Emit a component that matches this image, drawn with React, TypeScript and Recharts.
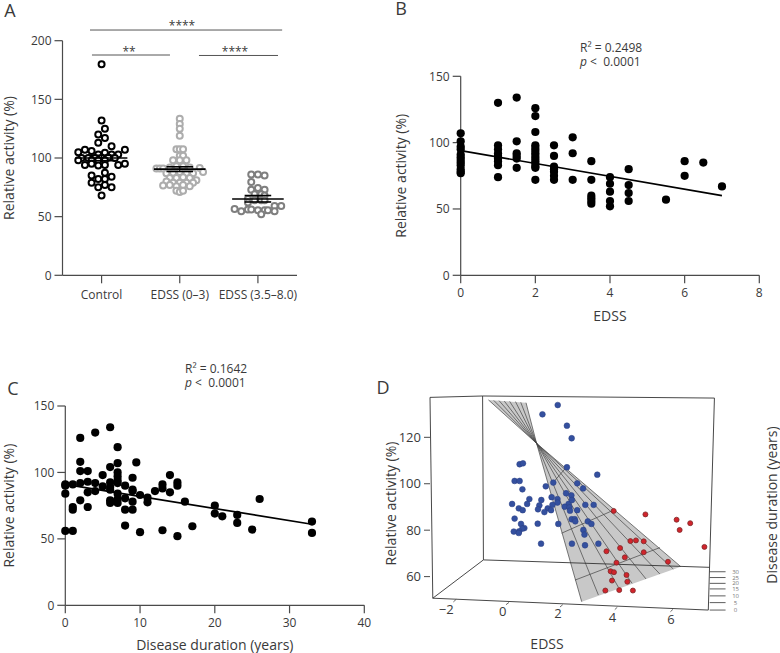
import React from 'react';
import { ScatterChart, Scatter, XAxis, YAxis, ReferenceLine } from 'recharts';

const FONT = '"Open Sans", "Noto Sans", sans-serif';
const INK = '#3a3a3a';
const AXIS = '#4a4a4a';

// Panel A: swarm columns (offset from the group centre) and values
const groupNames = ['Control', 'EDSS (0–3)', 'EDSS (3.5–8.0)'];
const controlCols = [0, 0, 1, -1, 1, -1, 3, -7, -5, -3, 7, 1, -1, 3, 5, -6, -4, -2, 0, 2, 4, -7, -3, -1, 1, -5, -3, -1, 1, 5, 7, 1, -3, 3, -1, 1, -3, -1, 1, 3, 0];
const controlVals = [180, 132, 125, 120, 117, 113, 110, 105, 107, 106, 107, 104.5, 103, 103, 103, 100, 100, 100, 100, 100.5, 100, 98, 98, 98, 98, 94, 95, 93.5, 94, 94, 95, 87.5, 85, 84, 82, 82, 79, 75, 77, 75, 68];
const milderCols = [0, 0, 0, 0, -1, 0, 1, 0, 1, -2, 0, 2, -7, -6, -5, -3, -1, 1, 3, 6, 7, -4, -2, 0, 2, 4, -3, -1, 1, 3, 5, -4, -2, 0, 2, 4, -5, -3, -1, 1, 3, -1, 0, 1];
const milderVals = [133.5, 129, 125, 119, 107.5, 107.5, 107.5, 102, 102, 98, 98, 98, 91, 91, 91, 92, 93, 93, 92, 91.5, 88, 87, 87.5, 88, 87, 87, 83, 83, 83.5, 83, 81, 80, 79, 79, 79, 79, 76.5, 77, 76, 77, 76, 72, 71, 72];
const severeCols = [-2, 0, 2, -2, 0, 2, -2, -1, 1, 2, -3, -1, 1, 2, -3, -7, -5, -3, -2, 0, 2, 3, 5, 7, 5, 1];
const severeVals = [86, 86, 85, 79.5, 74.5, 73, 73, 69, 69, 68, 65, 64, 64, 64, 62, 56.5, 54.5, 56, 56, 55.5, 55.5, 55.5, 59, 59, 54.5, 52];
const groupMeans = [100, 90.5, 65];
const groupSemHigh = [102.3, 92.5, 68];
const groupSemLow = [97.7, 88.5, 62.5];
const sigStart = [0.852, 0.877, 2.246];
const sigEnd = [3.31, 1.875, 3.257];
const sigLevel = [209.1, 187.8, 187.4];

// Panel B: EDSS vs relative activity
const edssX = [0, 0, 0, 0, 0, 0, 0, 0, 0, 0, 0, 0, 1, 1, 1, 1, 1, 1, 1, 1, 1, 1.5, 1.5, 1.5, 1.5, 1.5, 1.5, 2, 2, 2, 2, 2, 2, 2, 2, 2, 2, 2, 2, 2, 2, 2.5, 2.5, 2.5, 2.5, 2.5, 2.5, 2.5, 3, 3, 3, 3.5, 3.5, 3.5, 3.5, 3.5, 3.5, 4, 4, 4, 4, 4, 4.5, 4.5, 4.5, 4.5, 5.5, 6, 6, 6.5, 7];
const edssY = [107, 101, 97, 95, 91, 89, 87, 85, 83, 80, 78, 77, 130, 98, 95, 92, 90, 88, 86, 83, 74, 134, 101, 92, 90, 88, 81, 126, 120, 108, 98, 96, 94, 92, 90, 88, 86, 84, 82, 81, 72, 98, 90, 82, 80, 78, 75, 72, 104, 92, 72, 86, 72, 60, 58, 56, 54, 74, 69, 63, 56, 52, 80, 68, 62, 56, 57, 86, 75, 85, 67];
const edssFitX = [0, 7];
const edssFitY = [94, 60];

// Panel C: disease duration vs relative activity
const durationX = [0, 1, 0, 0, 0, 1, 1, 1, 2, 2, 2, 2, 2, 3, 3, 3, 3, 4, 4, 4, 5, 5, 6, 6, 6, 6, 6, 6, 6, 7, 7, 7, 7, 7, 7, 7, 7, 7, 8, 8, 8, 8, 9, 9, 9, 9, 9, 9.5, 10, 10, 11, 11, 12, 13, 13, 13, 14, 14, 15, 15, 15, 16, 17, 20, 20, 21, 23, 23, 25, 26, 33, 33];
const durationY = [56, 56, 91, 90, 84, 91, 74, 72, 126, 108, 101, 92, 79, 101, 93, 85, 74, 130, 92, 86, 98, 89.5, 134, 104, 92.5, 89, 87, 79, 77, 119, 107, 100, 97, 94, 92, 84, 80, 77, 90, 80.5, 72, 60, 96, 87, 86, 78, 72, 107.5, 83, 55, 81, 77.5, 86, 91, 88, 56.5, 98, 85, 92.5, 90, 52, 78, 59.5, 75, 69, 67, 68, 62, 57, 80, 63, 54.5];
const durationFitX = [0, 33];
const durationFitY = [91, 61];

// Panel D: points and frame as they read on the tilted view (EDSS-like, activity-like)
const blueX = [1.93, 1.38, 2.26, 2.43, 0.56, 0.68, 2.26, 3.35, 0.38, 0.56, 1.77, 2.63, 1.5, 2.84, 0.66, 2.23, 2.42, 1.71, 0.91, 1.92, 1.34, 1.92, 0.29, 0.83, 2.32, 2.44, 1.74, 2.92, 3.22, 1.27, 2.18, 2.35, 1.57, 0.53, 1.22, 0.67, 2.37, 1.69, 2.63, 1.45, 0.38, 2.43, 2.54, 2.56, 3.01, 0.61, 1.21, 1.95, 3.14, 0.73, 0.66, 2.85, 0.35, 0.54, 0.53, 2.89, 1.33, 2.44, 2.91, 3.39];
const blueY = [133.9, 129.9, 125, 119.6, 108.4, 108.8, 107.1, 103.9, 101.2, 101.2, 100.5, 100.2, 98.9, 98, 97.6, 95.9, 95, 94.2, 93.4, 93.4, 93, 91.9, 91.3, 91.3, 91.3, 93, 90.9, 90.9, 90.9, 90.7, 90.1, 89.8, 89.4, 89.4, 89, 88.6, 88.4, 88.6, 88.6, 87.8, 85, 84.7, 84.7, 83.8, 83.8, 82.7, 82.8, 82.7, 82.7, 80.9, 80.7, 80.1, 79.4, 79.5, 78.8, 78.1, 74.2, 74.2, 73.5, 74.2];
const redX = [3.94, 5.08, 6.2, 6.69, 6.31, 4.54, 4.74, 5.02, 4.17, 7.2, 3.68, 5.02, 4.34, 5.89, 4.04, 3.83, 3.95, 4.4, 3.88, 4.43, 3.64, 4.14, 4.63];
const redY = [88.3, 86.8, 84.5, 83, 80.1, 75.3, 75.6, 75.2, 72.3, 72.8, 70.9, 70.5, 68.3, 66.4, 66, 62.3, 61.9, 60.7, 58.3, 57.8, 54, 54.2, 54];
const planeX = [-0.56, 0.79, 1.17, 2.79, 6.35, 1.17];
const planeY = [136.1, 134.9, 117.4, 49.2, 64.3, 117.4];
const fanTopX = [-0.56, -0.37, -0.18, 0.01, 0.2, 0.41, 0.6, 0.79];
const fanTopY = [136.1, 135.9, 135.8, 135.6, 135.5, 135.4, 135.1, 134.9];
const fanEndX = [6.35, 6.08, 5.6, 5.1, 4.6, 4.11, 3.39, 2.79];
const fanEndY = [64.3, 63.3, 61.1, 59, 57.1, 55.4, 52.1, 49.2];
const fanWaist = { x: 1.17, y: 117.4 };
const crossLines = [
  [[1.77, 100.6], [2.24, 107.1]],
  [[2.07, 78.7], [3.95, 88.7]],
  [[2.55, 58.5], [5.6, 72.5]],
];
const frameLines = [
  [[-2.66, 137.2], [-0.77, 137.8], [7.56, 136.9], [7.34, 45.6], [-2.56, 50.7], [-2.66, 137.2]],
  [[-0.77, 137.8], [-0.74, 67.2], [7.38, 64]],
  [[-2.56, 50.7], [-0.74, 67.2]],
];
const edssTickLabels = ['−2', '0', '2', '4', '6'];
const edssLabelX = [-2.08, -0.05, 1.94, 3.9, 6];
const edssLabelY = [46.1, 45.3, 44.3, 42.8, 41.7];
const edssTickMarks = [
  [[-1.72, 50.2], [-1.82, 49.1]],
  [[0.18, 48.9], [0.07, 47.9]],
  [[2.11, 47.9], [2.01, 46.9]],
  [[4.07, 46.8], [3.98, 45.8]],
  [[6.07, 45.9], [5.98, 44.9]],
];
const durationTicks = ['30', '25', '20', '15', '10', '5', '0'];
const durationTickY = [62.1, 59.6, 57.1, 54.7, 51.7, 48.8, 45.6];

const zip = (xs: number[], ys: number[]) => xs.map((x, i) => ({ x, y: ys[i] }));
const pts = (line: number[][]) => line.map(([x, y]) => ({ x, y }));
const noDot = () => null;
const tick = { fontFamily: FONT, fontSize: 12, fill: INK };
const axisLine = { stroke: AXIS, strokeWidth: 1.2 };
const titleStyle = { fontFamily: FONT, fontSize: 14, fill: INK, textAnchor: 'middle' as const };

const stroke = (key: string, data: { x: number; y: number }[], color = AXIS, width = 1) => (
  <Scatter
    key={key}
    data={data}
    line={{ stroke: color, strokeWidth: width }}
    shape={noDot}
    isAnimationActive={false}
  />
);

const dot = (r: number, fill: string, edge = 'none', edgeWidth = 0) => (p: any) => (
  <circle cx={p.cx} cy={p.cy} r={r} fill={fill} stroke={edge} strokeWidth={edgeWidth} />
);

const Note = ({ x, y, size = 12, rotate = 0, color = INK, weight = 400, children }: any) => (
  <div
    style={{
      position: 'absolute',
      left: x,
      top: y,
      transform: `translate(-50%, -50%) rotate(${rotate}deg)`,
      fontFamily: FONT,
      fontSize: size,
      fontWeight: weight,
      color,
      lineHeight: 1,
      whiteSpace: 'nowrap',
    }}
  >
    {children}
  </div>
);

const Stats = ({ x, y, r2 }: { x: number; y: number; r2: string }) => (
  <div style={{ position: 'absolute', left: x, top: y, fontFamily: FONT, fontSize: 12, lineHeight: '14px', color: INK, whiteSpace: 'nowrap' }}>
    <div>R² = {r2}</div>
    <div><i>p</i> {'<'}&nbsp; 0.0001</div>
  </div>
);

const SwarmPanel = () => {
  const swarm = (cols: number[], vals: number[], group: number) =>
    cols.map((c, i) => ({ x: group + c * 0.0426, y: vals[i] }));
  return (
    <ScatterChart width={330} height={320} margin={{ top: 40.7, right: 33, bottom: 0, left: 0 }}>
      <XAxis
        type="number"
        dataKey="x"
        domain={[0.5, 3.5]}
        ticks={[1, 2, 3]}
        interval={0}
        tickFormatter={(v: number) => groupNames[v - 1]}
        tick={tick}
        tickSize={8}
        tickMargin={7}
        axisLine={axisLine}
        tickLine={axisLine}
        height={44.7}
      />
      <YAxis
        type="number"
        dataKey="y"
        domain={[0, 200]}
        ticks={[0, 50, 100, 150, 200]}
        interval={0}
        tick={tick}
        tickSize={8}
        tickMargin={3}
        axisLine={axisLine}
        tickLine={axisLine}
        width={62.5}
        label={{ value: 'Relative activity (%)', angle: -90, position: 'insideLeft', offset: 9.5, style: titleStyle }}
      />
      <Scatter data={swarm(controlCols, controlVals, 1)} shape={dot(3, '#fff', '#000', 2)} isAnimationActive={false} />
      <Scatter data={swarm(milderCols, milderVals, 2)} shape={dot(3, '#fff', '#adadad', 2)} isAnimationActive={false} />
      <Scatter data={swarm(severeCols, severeVals, 3)} shape={dot(3, '#fff', '#7f7f7f', 2)} isAnimationActive={false} />
      {groupMeans.map((m, i) => stroke(`mean${i}`, zip([i + 1 - 0.33, i + 1 + 0.33], [m, m]), '#000', 1.6))}
      {groupSemHigh.map((m, i) => stroke(`hi${i}`, zip([i + 1 - 0.17, i + 1 + 0.17], [m, m]), '#000', 1.6))}
      {groupSemLow.map((m, i) => stroke(`lo${i}`, zip([i + 1 - 0.17, i + 1 + 0.17], [m, m]), '#000', 1.6))}
      {groupMeans.map((_, i) => stroke(`sem${i}`, zip([i + 1, i + 1], [groupSemLow[i], groupSemHigh[i]]), '#000', 1.2))}
      {sigLevel.map((l, i) => (
        <ReferenceLine
          key={`sig${i}`}
          segment={[{ x: sigStart[i], y: l }, { x: sigEnd[i], y: l }]}
          ifOverflow="visible"
          stroke="#555"
          strokeWidth={1}
        />
      ))}
    </ScatterChart>
  );
};

const EdssPanel = () => (
  <ScatterChart width={390} height={270} margin={{ top: 16.3, right: 20.7, bottom: 0, left: 0 }}>
    <XAxis
      type="number"
      dataKey="x"
      domain={[0, 8]}
      ticks={[0, 2, 4, 6, 8]}
      interval={0}
      tick={tick}
      tickSize={8}
      tickMargin={5}
      axisLine={axisLine}
      tickLine={axisLine}
      height={54.7}
      label={{ value: 'EDSS', position: 'insideBottom', offset: 9, style: titleStyle }}
    />
    <YAxis
      type="number"
      dataKey="y"
      domain={[0, 150]}
      ticks={[0, 50, 100, 150]}
      interval={0}
      tick={tick}
      tickSize={8}
      tickMargin={3}
      axisLine={axisLine}
      tickLine={axisLine}
      width={70.7}
      label={{ value: 'Relative activity (%)', angle: -90, position: 'insideLeft', offset: 11, style: titleStyle }}
    />
    <Scatter data={zip(edssX, edssY)} shape={dot(4.1, '#000')} isAnimationActive={false} />
    {stroke('fit', zip(edssFitX, edssFitY), '#000', 1.7)}
  </ScatterChart>
);

const DurationPanel = () => (
  <ScatterChart width={380} height={263} margin={{ top: 16, right: 15.7, bottom: 0, left: 0 }}>
    <XAxis
      type="number"
      dataKey="x"
      domain={[0, 40]}
      ticks={[0, 10, 20, 30, 40]}
      interval={0}
      tick={tick}
      tickSize={8}
      tickMargin={5}
      axisLine={axisLine}
      tickLine={axisLine}
      height={47.7}
      label={{ value: 'Disease duration (years)', position: 'insideBottom', offset: 3, style: titleStyle }}
    />
    <YAxis
      type="number"
      dataKey="y"
      domain={[0, 150]}
      ticks={[0, 50, 100, 150]}
      interval={0}
      tick={tick}
      tickSize={8}
      tickMargin={3}
      axisLine={axisLine}
      tickLine={axisLine}
      width={65.3}
      label={{ value: 'Relative activity (%)', angle: -90, position: 'insideLeft', offset: 9.5, style: titleStyle }}
    />
    <Scatter data={zip(durationX, durationY)} shape={dot(4.1, '#000')} isAnimationActive={false} />
    {stroke('fit', zip(durationFitX, durationFitY), '#000', 1.7)}
  </ScatterChart>
);

const textDot = (size: number, color: string) => (p: any) => (
  <text x={p.cx} y={p.cy} textAnchor="middle" dominantBaseline="central" fontFamily={FONT} fontSize={size} fill={color}>
    {p.payload.label}
  </text>
);

const TiltedPanel = () => (
  <ScatterChart width={400} height={293} margin={{ top: 0, right: 0, bottom: 0, left: 0 }}>
    <XAxis type="number" dataKey="x" domain={[-2.66, 9.916]} hide height={0} />
    <YAxis
      type="number"
      dataKey="y"
      domain={[27.1, 153.3]}
      ticks={[60, 80, 100, 120]}
      interval={0}
      tick={{ ...tick, fontSize: 13 }}
      tickSize={6}
      tickMargin={3}
      axisLine={false}
      tickLine={{ stroke: AXIS, strokeWidth: 1 }}
      width={50}
      label={{ value: 'Relative activity (%)', angle: -90, position: 'insideLeft', offset: 11, dy: -3, style: titleStyle }}
    />
    <Scatter
      data={zip(planeX, planeY)}
      line={{ fill: '#c8c8c8', stroke: 'none' }}
      shape={noDot}
      isAnimationActive={false}
    />
    {fanTopX.map((x, i) =>
      stroke(`fan${i}`, [{ x, y: fanTopY[i] }, fanWaist, { x: fanEndX[i], y: fanEndY[i] }], '#444', 0.7)
    )}
    {crossLines.map((l, i) => stroke(`cross${i}`, pts(l), '#444', 0.7))}
    {frameLines.map((l, i) => stroke(`frame${i}`, pts(l), '#333', 0.9))}
    {edssTickMarks.map((l, i) => stroke(`etick${i}`, pts(l), '#444', 0.8))}
    {durationTickY.map((y, i) => stroke(`dtick${i}`, zip([7.39, 7.96], [y, y]), '#333', 0.8))}
    <Scatter
      data={edssTickLabels.map((label, i) => ({ x: edssLabelX[i], y: edssLabelY[i], label }))}
      shape={textDot(13, INK)}
      isAnimationActive={false}
    />
    <Scatter
      data={durationTicks.map((label, i) => ({ x: 8.32, y: durationTickY[i], label }))}
      shape={textDot(6, '#777')}
      isAnimationActive={false}
    />
    <Scatter data={zip(blueX, blueY)} shape={dot(2.9, '#34509f', '#2a3f80', 0.5)} isAnimationActive={false} />
    <Scatter data={zip(redX, redY)} shape={dot(2.5, '#d1242c', '#7d2a2a', 0.8)} isAnimationActive={false} />
  </ScatterChart>
);

const Place = ({ x, y, children }: any) => (
  <div style={{ position: 'absolute', left: x, top: y }}>{children}</div>
);

export default function App() {
  return (
    <div style={{ position: 'absolute', left: 0, top: 0, width: 780, height: 653, background: '#fff', overflow: 'hidden' }}>
      <Place x={0} y={0}><SwarmPanel /></Place>
      <Place x={390} y={60}><EdssPanel /></Place>
      <Place x={0} y={390}><DurationPanel /></Place>
      <Place x={380} y={360}><TiltedPanel /></Place>

      <Note x={10} y={10} size={18}>A</Note>
      <Note x={401} y={8} size={18}>B</Note>
      <Note x={13} y={388} size={18}>C</Note>
      <Note x={383} y={387} size={18}>D</Note>

      <Note x={182} y={26} size={12}>****</Note>
      <Note x={129} y={52} size={12}>**</Note>
      <Note x={235} y={52} size={12}>****</Note>

      <Stats x={580} y={41} r2="0.2498" />
      <Stats x={185} y={362} r2="0.1642" />

      <Note x={547} y={644} size={14}>EDSS</Note>
      <Note x={772} y={505} size={14} rotate={-90}>Disease duration (years)</Note>
    </div>
  );
}
